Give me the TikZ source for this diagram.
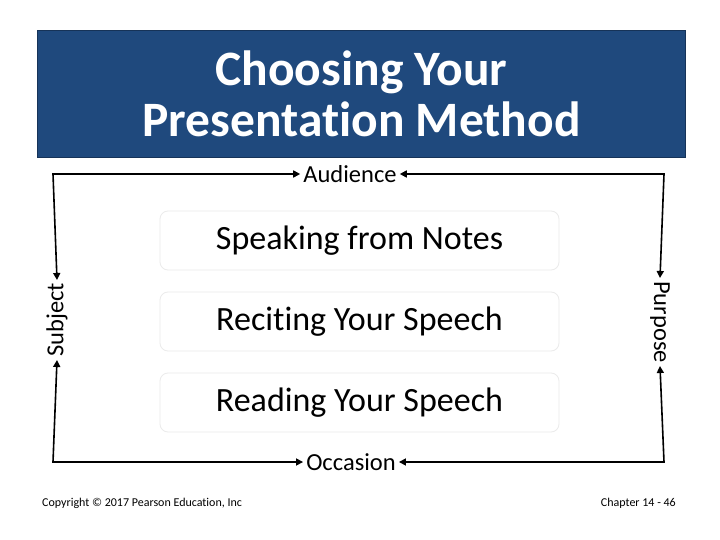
\documentclass[tikz,border=0pt]{standalone}
\usepackage{fontspec}
\setmainfont{Carlito}[Ligatures=NoCommon]
\usetikzlibrary{arrows.meta}
\definecolor{titleblue}{HTML}{1F497D}
\definecolor{boxline}{HTML}{EBEBEB}
\tikzset{
  methodbox/.style={draw=boxline, line width=0.8pt, fill=white, rounded corners=8pt, minimum width=399pt, minimum height=59pt, inner sep=0pt, font=\fontsize{34}{38}\selectfont},
  sidelabel/.style={inner sep=3pt, font=\fontsize{24.5}{26}\selectfont},
  conn/.style={line width=1.6pt, {Triangle[length=7pt,width=7pt]}-{Triangle[length=7pt,width=7pt]}},
}
\begin{document}
\begin{tikzpicture}[x=1pt,y=-1pt]
\useasboundingbox (0,0) rectangle (720,540);
\fill[white] (0,0) rectangle (720,540);
\node[fill=titleblue, draw=titleblue!70!black, line width=0.8pt, minimum width=648pt, minimum height=127pt, anchor=north west, inner sep=0pt, text=white, align=center, font=\fontsize{49.5}{51}\selectfont\bfseries] (title) at (37,30) {Choosing Your\\Presentation Method};

\node[sidelabel] (aud) at (350,174) {Audience};
\node[sidelabel] (occ) at (351,462) {Occasion};
\node[sidelabel, rotate=90] (subj) at (57,320) {Subject};
\node[sidelabel, rotate=-90] (purp) at (660,322) {Purpose};

\node[methodbox] (b1) at (359.5,240.5) {Speaking from Notes};
\node[methodbox] (b2) at (359.5,321.5) {Reciting Your Speech};
\node[methodbox] (b3) at (359.5,402.5) {Reading Your Speech};

\draw[conn] (subj.east) -- (53,174) -- (aud.west);
\draw[conn] (purp.west) -- (664,174) -- (aud.east);
\draw[conn] (subj.west) -- (53,462) -- (occ.west);
\draw[conn] (purp.east) -- (664,462) -- (occ.east);

\node[anchor=west, font=\fontsize{12}{14}\selectfont, inner sep=0pt] (copy) at (42,503) {Copyright © 2017 Pearson Education, Inc};
\node[anchor=east, font=\fontsize{12}{14}\selectfont, inner sep=0pt] (chap) at (676,503) {Chapter 14 - 46};
\end{tikzpicture}
\end{document}
